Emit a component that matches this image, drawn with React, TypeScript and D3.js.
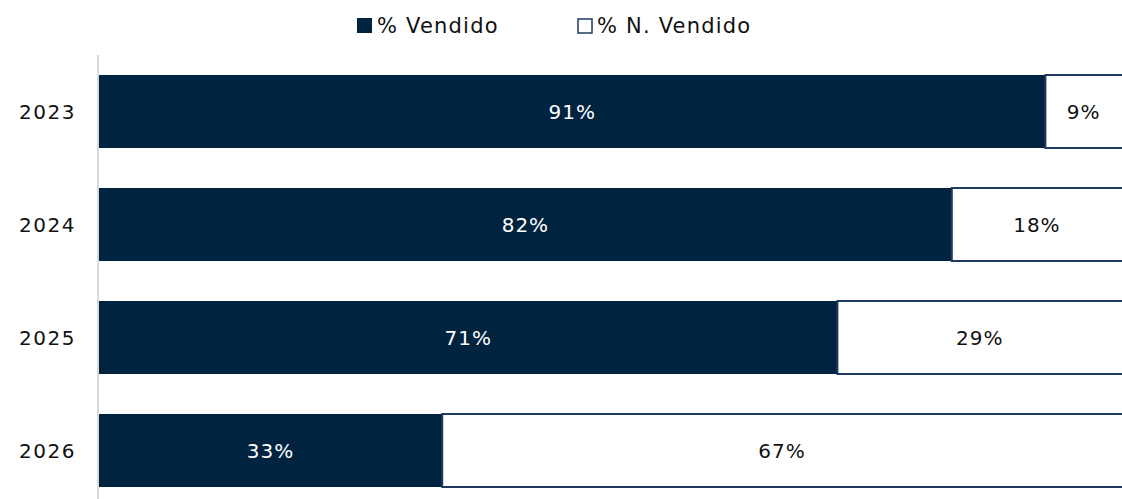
import React from 'react';
import * as d3 from 'd3';

const years = ['2023', '2024', '2025', '2026'];
const vendido = [91, 82, 71, 33];
const noVendido = [9, 18, 29, 67];
const legendLabels = ['% Vendido', '% N. Vendido'];

const W = 1122;
const H = 499;
const navy = '#002340';
const outline = '#1f3a60';
const font = "'Century Gothic', 'DejaVu Sans', sans-serif";

export default function App() {
  const x = d3.scaleLinear().domain([0, 100]).range([99, 1139]);
  const y = d3.scaleBand().domain(years).range([55, 507]).paddingInner(0.354).paddingOuter(0.177);

  return (
    <svg width={W} height={H} style={{ position: 'absolute', left: 0, top: 0 }} fontFamily={font}>
      <rect width={W} height={H} fill="#fff" />
      {/* legend */}
      <g fontSize={21} fill="#111" letterSpacing={1.2}>
        <rect x={357} y={18} width={15} height={15} fill={navy} />
        <text x={377} y={33}>{legendLabels[0]}</text>
        <rect x={578} y={19} width={14} height={14} fill="#fff" stroke={outline} strokeWidth={1.5} />
        <text x={597} y={33}>{legendLabels[1]}</text>
      </g>
      {years.map((yr, i) => {
        const y0 = y(yr)!;
        const bh = y.bandwidth();
        const v = vendido[i];
        const n = noVendido[i];
        return (
          <g key={yr} fontSize={20} letterSpacing={1}>
            <rect x={x(0)} y={y0} width={x(v) - x(0)} height={bh} fill={navy} />
            <rect x={x(v)} y={y0} width={x(v + n) - x(v)} height={bh} fill="#fff" stroke={outline} strokeWidth={2} />
            <text x={(x(0) + x(v)) / 2} y={y0 + bh / 2} dy="0.35em" textAnchor="middle" fill="#fff">{v}%</text>
            <text x={(x(v) + Math.min(x(v + n), W)) / 2} y={y0 + bh / 2} dy="0.35em" textAnchor="middle" fill="#111">{n}%</text>
            <text x={76} y={y0 + bh / 2} dy="0.35em" textAnchor="end" fill="#111" letterSpacing={1.5}>{yr}</text>
          </g>
        );
      })}
      <line x1={98} x2={98} y1={55} y2={H} stroke="#d9d9d9" strokeWidth={2} />
    </svg>
  );
}
